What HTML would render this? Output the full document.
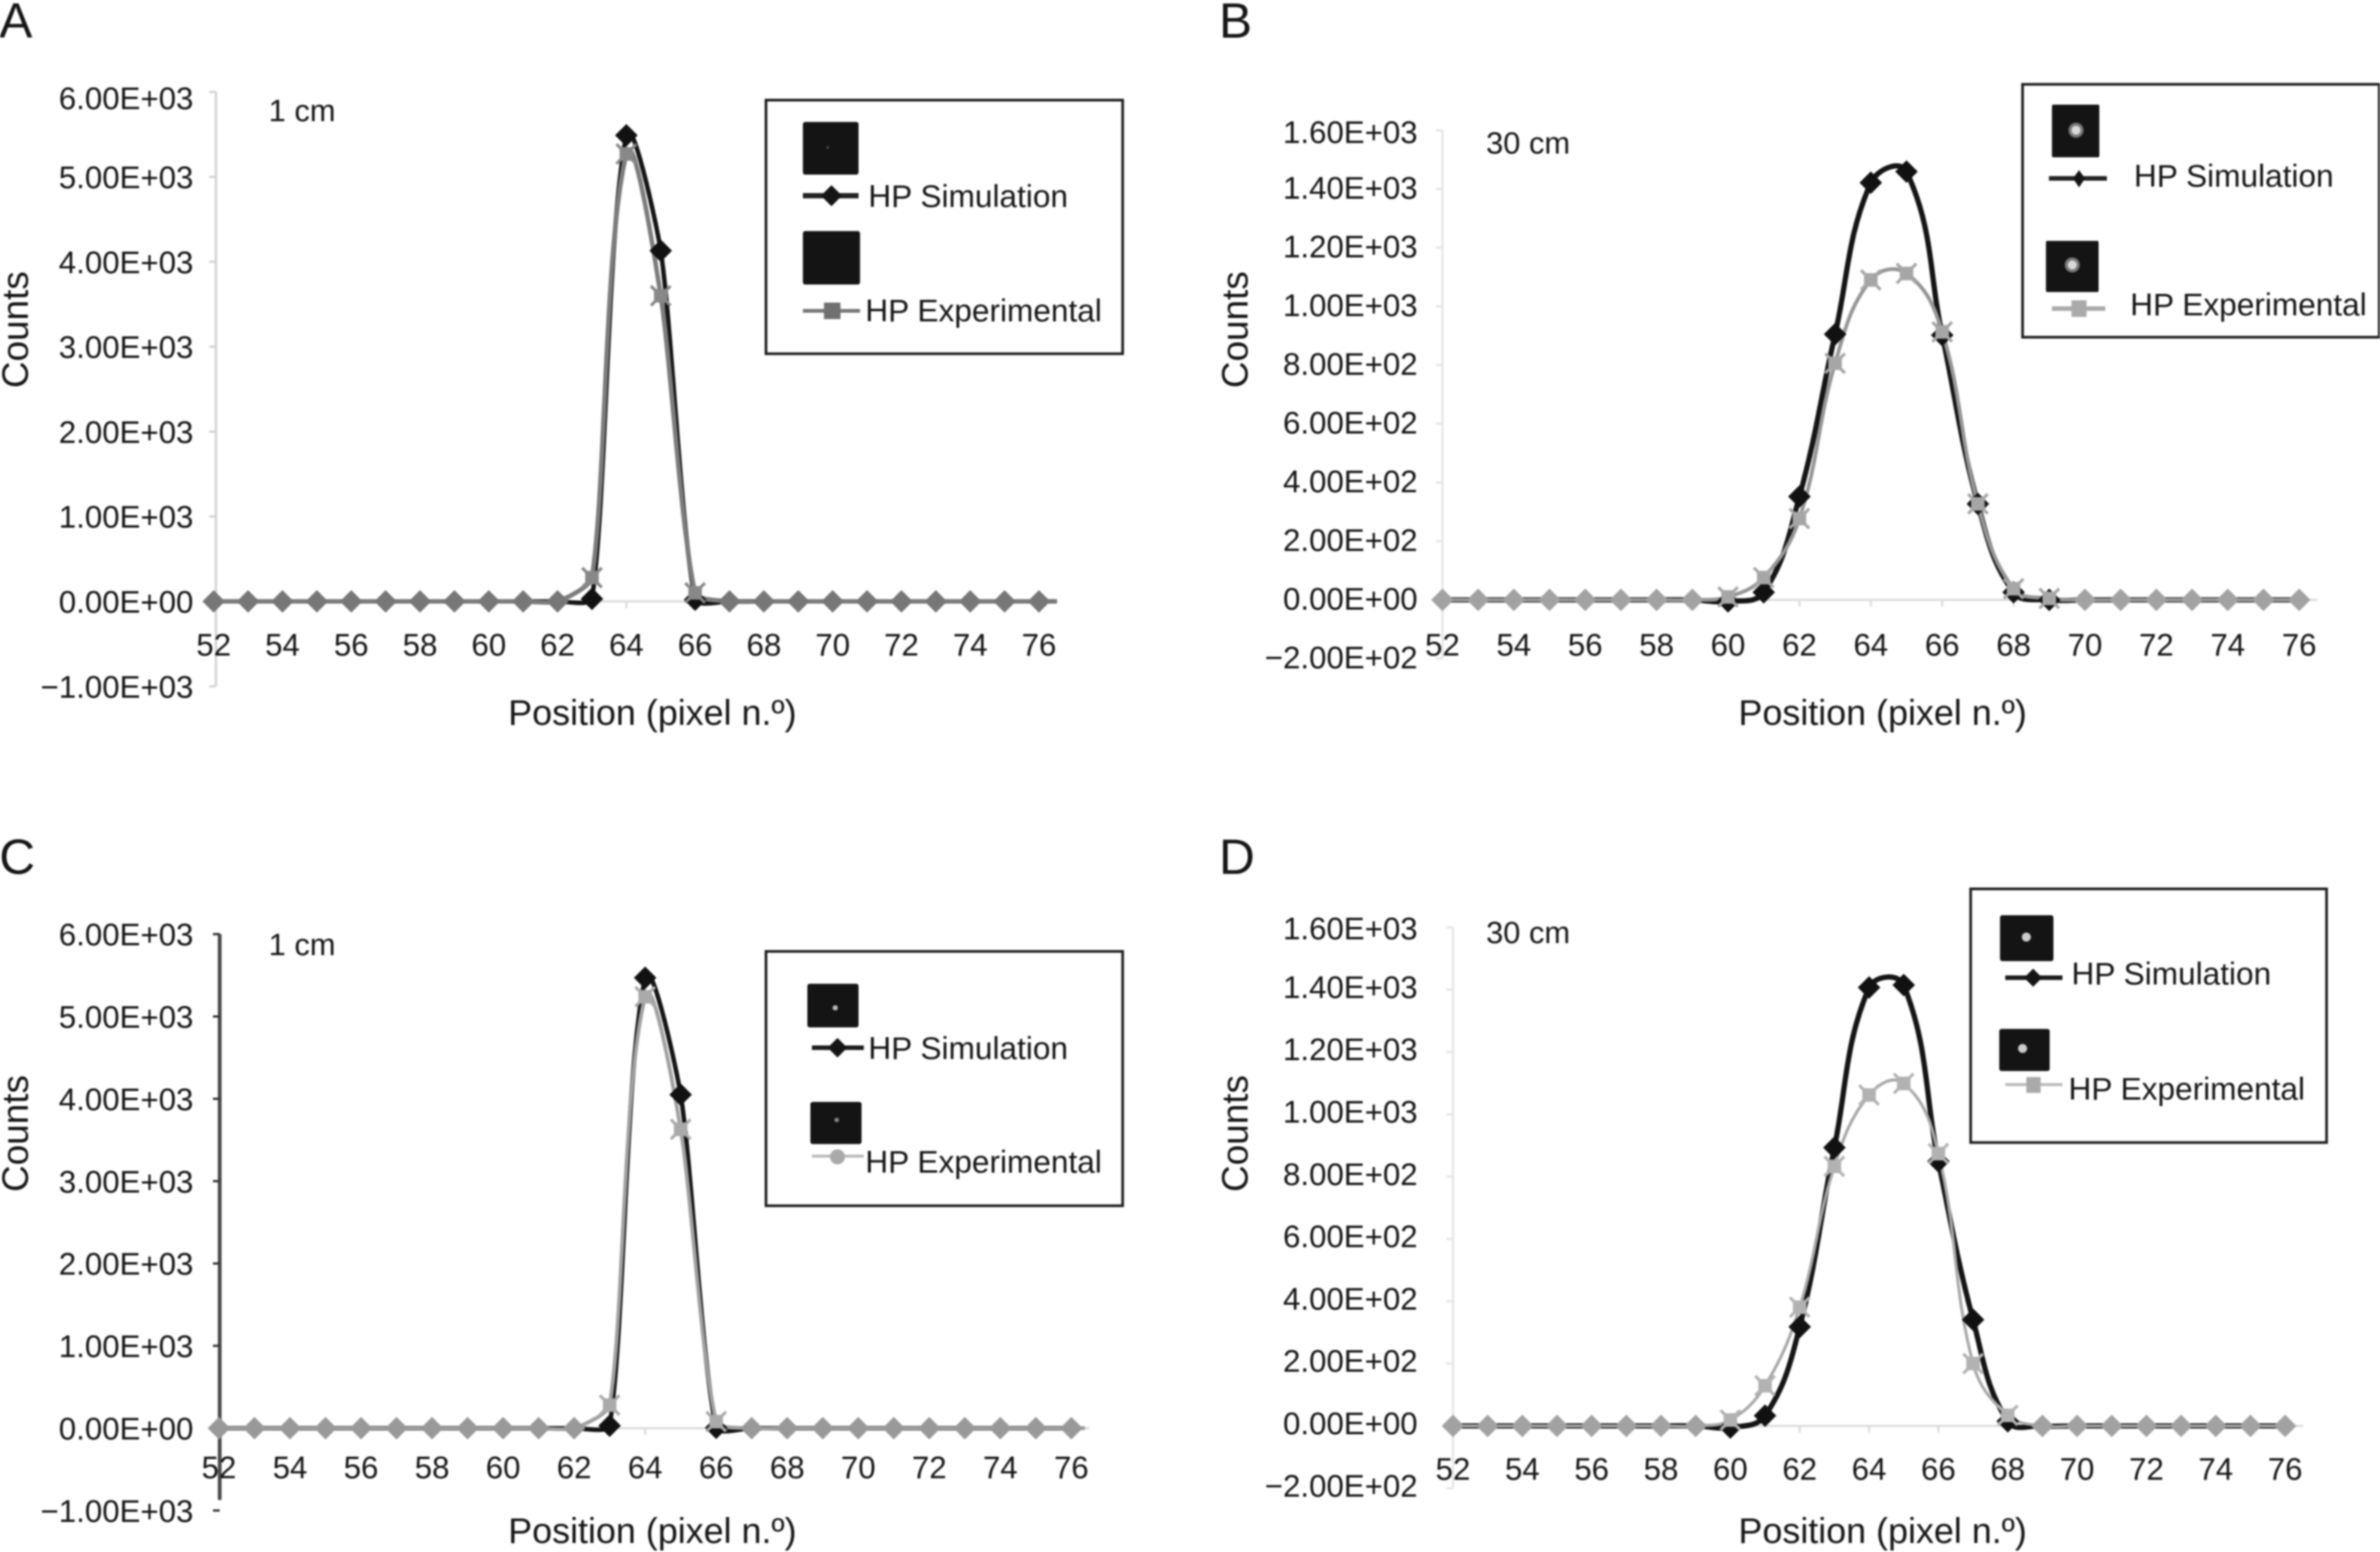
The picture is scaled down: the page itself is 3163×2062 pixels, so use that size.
<!DOCTYPE html>
<html lang="en">
<head>
<meta charset="utf-8">
<title>HP simulation and experimental profiles</title>
<style>
html,body{margin:0;padding:0;background:#fff;width:3163px;height:2062px;overflow:hidden}
svg{display:block;position:absolute;left:0;top:0;filter:blur(1px)}
text{font-family:"Liberation Sans",sans-serif;fill:#151515}
.tick{font-size:41.5px}
.title{font-size:47.7px}
.counts{font-size:49px}
.letter{font-size:66px}
.note{font-size:41px}
.lg{font-size:42px}
.box{fill:#fff;stroke:#1a1a1a;stroke-width:3.5}
.thumb{fill:#141414}
</style>
</head>
<body>
<svg id="figure" xmlns="http://www.w3.org/2000/svg" width="3163" height="2062" viewBox="0 0 3163 2062">
  <rect width="3163" height="2062" fill="#fff"/>

  <g id="panel-a">
    <text class="letter" x="-1" y="50">A</text>
    <text class="note" x="357" y="161">1 cm</text>
    <text class="counts" transform="translate(37 438) rotate(-90)" text-anchor="middle">Counts</text>
    <text class="title" x="867" y="963" text-anchor="middle">Position (pixel n.º)</text>
  </g>
  <g id="panel-b">
    <text class="letter" x="1620" y="50">B</text>
    <text class="note" x="1975" y="204">30 cm</text>
    <text class="counts" transform="translate(1658 438) rotate(-90)" text-anchor="middle">Counts</text>
    <text class="title" x="2502" y="963" text-anchor="middle">Position (pixel n.º)</text>
  </g>
  <g id="panel-c">
    <text class="letter" x="-1" y="1161">C</text>
    <text class="note" x="357" y="1269">1 cm</text>
    <text class="counts" transform="translate(37 1506) rotate(-90)" text-anchor="middle">Counts</text>
    <text class="title" x="867" y="2050" text-anchor="middle">Position (pixel n.º)</text>
  </g>
  <g id="panel-d">
    <text class="letter" x="1620" y="1161">D</text>
    <text class="note" x="1975" y="1253">30 cm</text>
    <text class="counts" transform="translate(1658 1506) rotate(-90)" text-anchor="middle">Counts</text>
    <text class="title" x="2502" y="2050" text-anchor="middle">Position (pixel n.º)</text>
  </g>

  <g>
    <rect class="box" x="1018" y="133" width="474" height="337"/>
    <rect class="thumb" x="1067" y="162" width="74" height="70" rx="3"/>
    <circle cx="1100" cy="196" r="1.5" fill="#666"/>
    <line x1="1067" x2="1141" y1="260" y2="260" stroke="#222" stroke-width="7"/>
    <polygon points="1105,246 1119,260 1105,274 1091,260" fill="#151515"/>
    <text class="lg" x="1154" y="275">HP Simulation</text>
    <rect class="thumb" x="1067" y="307" width="76" height="71" rx="3"/>
    <line x1="1067" x2="1143" y1="413" y2="413" stroke="#777" stroke-width="5"/>
    <rect x="1095" y="402" width="22" height="22" fill="#707070"/>
    <text class="lg" x="1150" y="427">HP Experimental</text>
  </g>

  <g>
    <rect class="box" x="2688" y="112" width="474" height="336"/>
    <rect class="thumb" x="2727" y="139" width="63" height="70" rx="2"/>
    <circle cx="2759" cy="173" r="10" fill="#777"/>
    <circle cx="2759" cy="173" r="6" fill="#d8d8d8"/>
    <line x1="2723" x2="2800" y1="237" y2="237" stroke="#222" stroke-width="6"/>
    <polygon points="2763,226 2771,237 2763,249 2755,237" fill="#151515"/>
    <text class="lg" x="2836" y="248">HP Simulation</text>
    <rect class="thumb" x="2719" y="320" width="70" height="68" rx="2"/>
    <circle cx="2754" cy="352" r="10" fill="#777"/>
    <circle cx="2754" cy="352" r="6" fill="#d8d8d8"/>
    <line x1="2727" x2="2798" y1="410" y2="410" stroke="#aaa" stroke-width="6"/>
    <rect x="2753" y="399" width="20" height="22" fill="#aaa"/>
    <text class="lg" x="2831" y="419">HP Experimental</text>
  </g>

  <g>
    <rect class="box" x="1018" y="1264" width="474" height="338"/>
    <rect class="thumb" x="1073" y="1307" width="68" height="58" rx="3"/>
    <circle cx="1110" cy="1339" r="3.5" fill="#bbb"/>
    <line x1="1079" x2="1148" y1="1392" y2="1392" stroke="#1a1a1a" stroke-width="6"/>
    <polygon points="1113,1379 1126,1392 1113,1405 1100,1392" fill="#151515"/>
    <text class="lg" x="1154" y="1407">HP Simulation</text>
    <rect class="thumb" x="1077" y="1464" width="68" height="56" rx="3"/>
    <circle cx="1112" cy="1488" r="3" fill="#888"/>
    <line x1="1079" x2="1148" y1="1536" y2="1536" stroke="#bbb" stroke-width="4"/>
    <circle cx="1113" cy="1537" r="10" fill="#aaa"/>
    <text class="lg" x="1150" y="1558">HP Experimental</text>
  </g>

  <g>
    <rect class="box" x="2619" y="1181" width="473" height="337"/>
    <rect class="thumb" x="2658" y="1216" width="71" height="61" rx="3"/>
    <circle cx="2693" cy="1245" r="6" fill="#ccc"/>
    <line x1="2665" x2="2741" y1="1299" y2="1299" stroke="#1a1a1a" stroke-width="6"/>
    <polygon points="2702,1287 2714,1299 2702,1311 2690,1299" fill="#151515"/>
    <text class="lg" x="2753" y="1308">HP Simulation</text>
    <rect class="thumb" x="2657" y="1367" width="67" height="56" rx="3"/>
    <circle cx="2688" cy="1393" r="6" fill="#ccc"/>
    <line x1="2665" x2="2741" y1="1441" y2="1441" stroke="#bbb" stroke-width="4"/>
    <rect x="2693" y="1431" width="19" height="21" fill="#aaa"/>
    <text class="lg" x="2749" y="1461">HP Experimental</text>
  </g>
</svg>

<script>
// Shared x categories (pixel number)
const categories = [52,53,54,55,56,57,58,59,60,61,62,63,64,65,66,67,68,69,70,71,72,73,74,75,76];
const xTickValues = [52,54,56,58,60,62,64,66,68,70,72,74,76];
const xTickLabels = ["52","54","56","58","60","62","64","66","68","70","72","74","76"];

// Y ticks for the 1 cm panels (A, C)
const yTickValuesNear = [-1000,0,1000,2000,3000,4000,5000,6000];
const yTickLabelsNear = ["−1.00E+03","0.00E+00","1.00E+03","2.00E+03","3.00E+03","4.00E+03","5.00E+03","6.00E+03"];

// Y ticks for the 30 cm panels (B, D)
const yTickValuesFar = [-200,0,200,400,600,800,1000,1200,1400,1600];
const yTickLabelsFar = ["−2.00E+02","0.00E+00","2.00E+02","4.00E+02","6.00E+02","8.00E+02","1.00E+03","1.20E+03","1.40E+03","1.60E+03"];

// Series values, one per category
const simA = [0,0,0,0,0,0,0,0,0,0,0,30,5490,4130,20,0,0,0,0,0,0,0,0,0,0];
const expA = [0,0,0,0,0,0,0,0,0,0,0,280,5270,3600,100,0,0,0,0,0,0,0,0,0,0];
const simB = [0,0,0,0,0,0,0,0,-5,26,352,905,1421,1459,902,327,26,0,0,0,0,0,0,0,0];
const expB = [0,0,0,0,0,0,0,0,10,76,277,806,1090,1112,913,327,38,5,0,0,0,0,0,0,0];
const simC = [0,0,0,0,0,0,0,0,0,0,0,30,5470,4050,5,0,0,0,0,0,0,0,0,0,0];
const expC = [0,0,0,0,0,0,0,0,0,0,0,280,5240,3630,80,0,0,0,0,0,0,0,0,0,0];
const simD = [0,0,0,0,0,0,0,0,-5,33,318,893,1407,1415,849,341,15,0,0,0,0,0,0,0,0];
const expD = [0,0,0,0,0,0,0,0,19,129,381,833,1062,1099,874,200,34,0,0,0,0,0,0,0,0];

const NS = "http://www.w3.org/2000/svg";

function make(tag, attrs, parent) {
  const node = document.createElementNS(NS, tag);
  for (const k in attrs) node.setAttribute(k, attrs[k]);
  parent.appendChild(node);
  return node;
}

// Excel-style smoothing: tangents follow neighbours, handles scale with segment length
function smoothPath(pts, h) {
  const tan = pts.map((p, i) => {
    const a = pts[Math.max(i - 1, 0)], b = pts[Math.min(i + 1, pts.length - 1)];
    const dx = b[0] - a[0], dy = b[1] - a[1], n = Math.hypot(dx, dy) || 1;
    return [dx / n, dy / n];
  });
  let d = "M" + pts[0][0].toFixed(1) + " " + pts[0][1].toFixed(1);
  for (let i = 0; i < pts.length - 1; i++) {
    const p = pts[i], q = pts[i + 1], len = Math.hypot(q[0] - p[0], q[1] - p[1]) * h;
    d += "C" + (p[0] + tan[i][0] * len).toFixed(1) + " " + (p[1] + tan[i][1] * len).toFixed(1) + " " +
         (q[0] - tan[i + 1][0] * len).toFixed(1) + " " + (q[1] - tan[i + 1][1] * len).toFixed(1) + " " +
         q[0].toFixed(1) + " " + q[1].toFixed(1);
  }
  return d;
}

function diamond(parent, cx, cy, r, fill) {
  return make("polygon", {
    points: [cx, cy - r, cx + r, cy, cx, cy + r, cx - r, cy].join(" "),
    fill: fill
  }, parent);
}

function drawPanel(cfg) {
  const root = document.getElementById(cfg.id);
  const X = v => cfg.x0 + (v - categories[0]) * cfg.dx;
  const Y = v => cfg.y0 - v * cfg.k;
  const ymin = cfg.yTickValues[0], ymax = cfg.yTickValues[cfg.yTickValues.length - 1];

  const yAxis = make("line", { x1: cfg.axisX, x2: cfg.axisX, y1: Y(ymax), y2: Y(ymin) + cfg.axisBottomTrim, stroke: cfg.axisColor, "stroke-width": cfg.axisWidth }, root);
  
  

  const xAxis = make("line", { x1: X(categories[0]), x2: X(76) + 24, y1: Y(0), y2: Y(0), stroke: "#ddd", "stroke-width": 3 }, root);
  
  

  const tail = make("line", { x1: X(76), x2: X(76) + cfg.tailLength, y1: Y(0), y2: Y(0), stroke: cfg.flatColor, "stroke-width": cfg.expWidth }, root);
  
  

  cfg.yTickValues.forEach((v, i) => {
    const tick = make("line", { x1: cfg.axisX - 9, x2: cfg.axisX, y1: Y(v), y2: Y(v), stroke: cfg.tickColor, "stroke-width": 3 }, root);
    
    
    const topNudge = v === ymax ? cfg.topLabelNudge : 0;
    const label = make("text", { class: "tick", x: cfg.yLabelX, y: Y(v) + cfg.yLabelDy + topNudge, "text-anchor": "end" }, root);
    
    
    label.textContent = cfg.yTickLabels[i];
  });

  xTickValues.forEach((v, i) => {
    const tick = make("line", { x1: X(v), x2: X(v), y1: Y(0), y2: Y(0) + 9, stroke: "#ddd", "stroke-width": 3 }, root);
    
    
    const label = make("text", { class: "tick", x: X(v), y: cfg.xLabelY, "text-anchor": "middle" }, root);
    
    
    label.textContent = xTickLabels[i];
  });

  const simLine = make("path", { d: smoothPath(categories.map((c, i) => [X(c), Y(cfg.sim[i])]), cfg.handle), fill: "none", stroke: "#141414", "stroke-width": cfg.simWidth }, root);
  
  

  const expLine = make("path", { d: smoothPath(categories.map((c, i) => [X(c), Y(cfg.exp[i])]), cfg.handle), fill: "none", stroke: cfg.expColor, "stroke-width": cfg.expWidth }, root);
  
  

  categories.forEach((c, i) => {
    const cx = X(c);
    const simY = Y(cfg.sim[i]), expY = Y(cfg.exp[i]);
    if (cfg.sim[i] === 0 && cfg.exp[i] === 0) {
      const flat = diamond(root, cx, expY, 15, cfg.flatColor);
      
      
      return;
    }
    const simPoint = diamond(root, cx, simY, 15, "#111");
    
    
    const expPoint = make("rect", { x: cx - 9, y: expY - 9, width: 18, height: 18, fill: cfg.expMarker }, root);
    
    
    const cross = make("path", { d: "M" + (cx - 13) + " " + (expY - 13) + "L" + (cx + 13) + " " + (expY + 13) + "M" + (cx + 13) + " " + (expY - 13) + "L" + (cx - 13) + " " + (expY + 13), stroke: cfg.expMarker, "stroke-width": 4, fill: "none" }, root);
    
    
  });
}

drawPanel({ id: "panel-a", sim: simA, exp: expA, yTickValues: yTickValuesNear, yTickLabels: yTickLabelsNear,
  x0: 284, dx: 45.7, y0: 799, k: 0.1128, axisX: 287, axisColor: "#d2d2d2", axisWidth: 3, tickColor: "#d2d2d2", axisBottomTrim: 0,
  yLabelX: 257, yLabelDy: 15, topLabelNudge: 8, xLabelY: 871, simWidth: 6, expWidth: 6, expColor: "#7c7c7c", expMarker: "#888", flatColor: "#777", handle: 0.22, tailLength: 24 });

drawPanel({ id: "panel-b", sim: simB, exp: expB, yTickValues: yTickValuesFar, yTickLabels: yTickLabelsFar,
  x0: 1917, dx: 47.44, y0: 797, k: 0.39, axisX: 1917, axisColor: "#e6e6e6", axisWidth: 3, tickColor: "#e6e6e6", axisBottomTrim: 0,
  yLabelX: 1884, yLabelDy: 13, topLabelNudge: 4, xLabelY: 871, simWidth: 7, expWidth: 5, expColor: "#969696", expMarker: "#a6a6a6", flatColor: "#a2a2a2", handle: 0.38, tailLength: 10 });

drawPanel({ id: "panel-c", sim: simC, exp: expC, yTickValues: yTickValuesNear, yTickLabels: yTickLabelsNear,
  x0: 291, dx: 47.2, y0: 1897.5, k: 0.1094, axisX: 292, axisColor: "#4a4a4a", axisWidth: 5, tickColor: "#333", axisBottomTrim: -14,
  yLabelX: 257, yLabelDy: 15, topLabelNudge: 0, xLabelY: 1964, simWidth: 6, expWidth: 5, expColor: "#a0a0a0", expMarker: "#aaa", flatColor: "#999", handle: 0.22, tailLength: 18 });

drawPanel({ id: "panel-d", sim: simD, exp: expD, yTickValues: yTickValuesFar, yTickLabels: yTickLabelsFar,
  x0: 1931, dx: 46.08, y0: 1894.5, k: 0.414, axisX: 1931, axisColor: "#e6e6e6", axisWidth: 3, tickColor: "#e6e6e6", axisBottomTrim: 0,
  yLabelX: 1884, yLabelDy: 11, topLabelNudge: 5, xLabelY: 1966, simWidth: 7, expWidth: 4, expColor: "#a8a8a8", expMarker: "#b2b2b2", flatColor: "#a2a2a2", handle: 0.38, tailLength: 10 });
</script>
</body>
</html>
